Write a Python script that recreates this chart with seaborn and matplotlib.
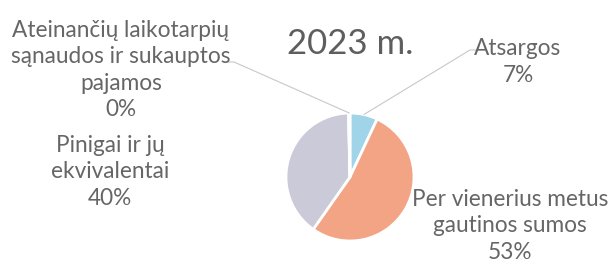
import numpy as np
import matplotlib
matplotlib.use("Agg")
import matplotlib.pyplot as plt
import seaborn as sns

categories = ["Atsargos", "Per vienerius metus\ngautinos sumos", "Pinigai ir jų\nekvivalentai",
              "Ateinančių laikotarpių\nsąnaudos ir sukauptos\npajamos"]
values = [7, 53, 40, 0.4]
pct_labels = ["7%", "53%", "40%", "0%"]
colors = ["#a0d4e9", "#f2a484", "#cbcad8", "#ffffff"]
title = "2023 m."

sns.set_theme(style="white")
plt.rcParams["font.family"] = ["Lato", "DejaVu Sans"]
text_color = "#666666"

W, H = 609, 266
fig = plt.figure(figsize=(W / 100, H / 100), dpi=100)
ax = fig.add_axes([0, 0, 1, 1])

cx, cy, r = 350, H - 177, 64
wedges, _ = ax.pie(values, colors=colors, startangle=90, counterclock=False,
                   center=(cx, cy), radius=r, frame=True,
                   wedgeprops=dict(edgecolor="white", linewidth=2))
ax.set_xlim(0, W)
ax.set_ylim(0, H)
ax.axis("off")

ax.text(350, H - 44, title, ha="center", va="center", fontsize=25, color="#5e5e5e")

# label positions (layout, top-left pixel coords -> flipped)
label_pos = [(518, 62), (510, 226), (110, 172), (121, 70)]
line_start = {0: [(477, 50), (470, 50)], 3: [(228, 62), (234, 62)]}

for i, (cat, pct) in enumerate(zip(categories, pct_labels)):
    x, y = label_pos[i]
    ax.text(x, H - y, f"{cat}\n{pct}", ha="center", va="center", fontsize=16.3,
            color=text_color, linespacing=1.3)
    if i in line_start:
        w = wedges[i]
        mid = np.deg2rad((w.theta1 + w.theta2) / 2)
        px, py = cx + r * np.cos(mid), cy + r * np.sin(mid)
        pts = [(a, H - b) for a, b in line_start[i]] + [(px, py)]
        xs, ys = zip(*pts)
        ax.plot(xs, ys, color="#c8c8c8", lw=0.8)

fig.savefig("out.png", dpi=100, facecolor="white")
